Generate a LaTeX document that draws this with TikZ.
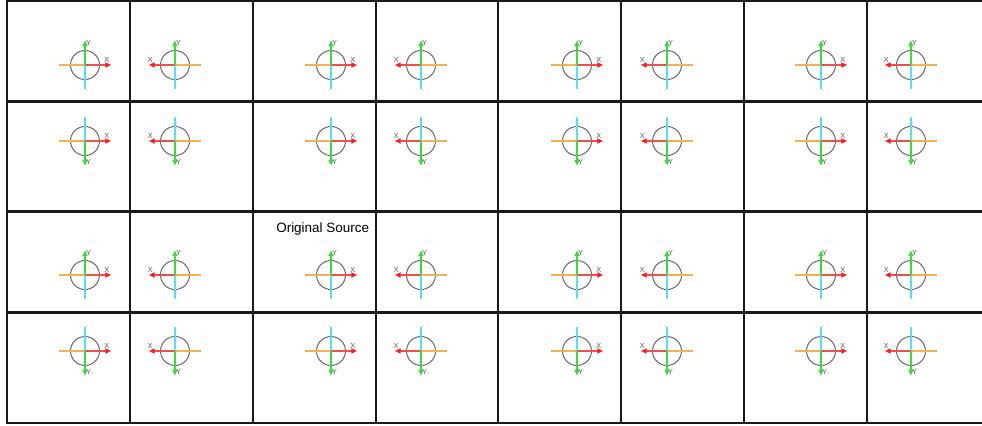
\documentclass[tikz,border=0pt]{standalone}
\usepackage{fontspec}
\setmainfont{Liberation Sans}
\usetikzlibrary{arrows.meta}
\definecolor{axred}{RGB}{238,80,80}
\definecolor{axredtip}{RGB}{250,30,30}
\definecolor{axgreen}{RGB}{55,222,55}
\definecolor{axcyan}{RGB}{85,225,245}
\definecolor{axorange}{RGB}{245,176,85}
\definecolor{circgray}{RGB}{105,105,105}
\definecolor{labgray}{RGB}{90,90,90}
\definecolor{gridcol}{RGB}{25,25,25}
\begin{document}
\begin{tikzpicture}[x=0.75pt,y=-0.75pt,
  gridline/.style={draw=gridcol,line width=1.6pt},
  ringline/.style={draw=circgray,line width=0.75pt},
  xneg/.style={draw=axorange,line width=1.3pt},
  yneg/.style={draw=axcyan,line width=1.3pt},
  xpos/.style={draw=axred,line width=1.3pt,-{Triangle[length=4.2pt,width=3.8pt,fill=axredtip,color=axredtip]}},
  ypos/.style={draw=axgreen,line width=1.3pt,-{Triangle[length=4.2pt,width=3.8pt]}},
  axlabel/.style={inner sep=0pt,text=labgray,font=\fontsize{5.5}{6}\selectfont},
  caption/.style={inner sep=0pt,font=\fontsize{10.1}{12}\selectfont}]
\useasboundingbox (0,0) rectangle (982,425);
\fill[white] (0,0) rectangle (982,425);
% grid
\foreach \gx in {7,129.7,252.7,375.7,498.3,621,744,866.7}
  \draw[gridline] (\gx,0.3) -- (\gx,423.5);
\foreach \gy in {1,101.5,211.5,312.5,423.3}
  \draw[gridline] (6.2,\gy) -- (982,\gy);
% cells
\foreach \cx/\xs in {85/1,175/-1,331/1,421/-1,577/1,667/-1,821/1,911/-1}{
  \foreach \cy/\ys in {65/1,141/-1,275/1,351/-1}{
    \pgfmathsetmacro\lx{\xs>0 ? \cx+21.8 : \cx-24.6}
    \pgfmathsetmacro\ly{\ys>0 ? \cy-22.3 : \cy+20.5}
    \pgfmathsetmacro\xax{\cx+26*\xs}
    \pgfmathsetmacro\xbx{\cx-26*\xs}
    \pgfmathsetmacro\yay{\cy-24.5*\ys}
    \pgfmathsetmacro\yby{\cy+24*\ys}
    \coordinate (o) at (\cx,\cy);
    \coordinate (xa) at (\xax,\cy);
    \coordinate (xb) at (\xbx,\cy);
    \coordinate (ya) at (\cx,\yay);
    \coordinate (yb) at (\cx,\yby);
    \draw[ringline] (o) circle[radius=14.5];
    \draw[xneg] (o) -- (xb);
    \draw[yneg] (o) -- (yb);
    \draw[xpos] (o) -- (xa);
    \draw[ypos] (o) -- (ya);
    \node[axlabel] (lx) at (\lx,{\cy-5.5}) {X};
    \node[axlabel] (ly) at ({\cx+3.6},\ly) {Y};
  }
}
\node[caption] (src) at (322.7,229) {Original Source};
\end{tikzpicture}
\end{document}
